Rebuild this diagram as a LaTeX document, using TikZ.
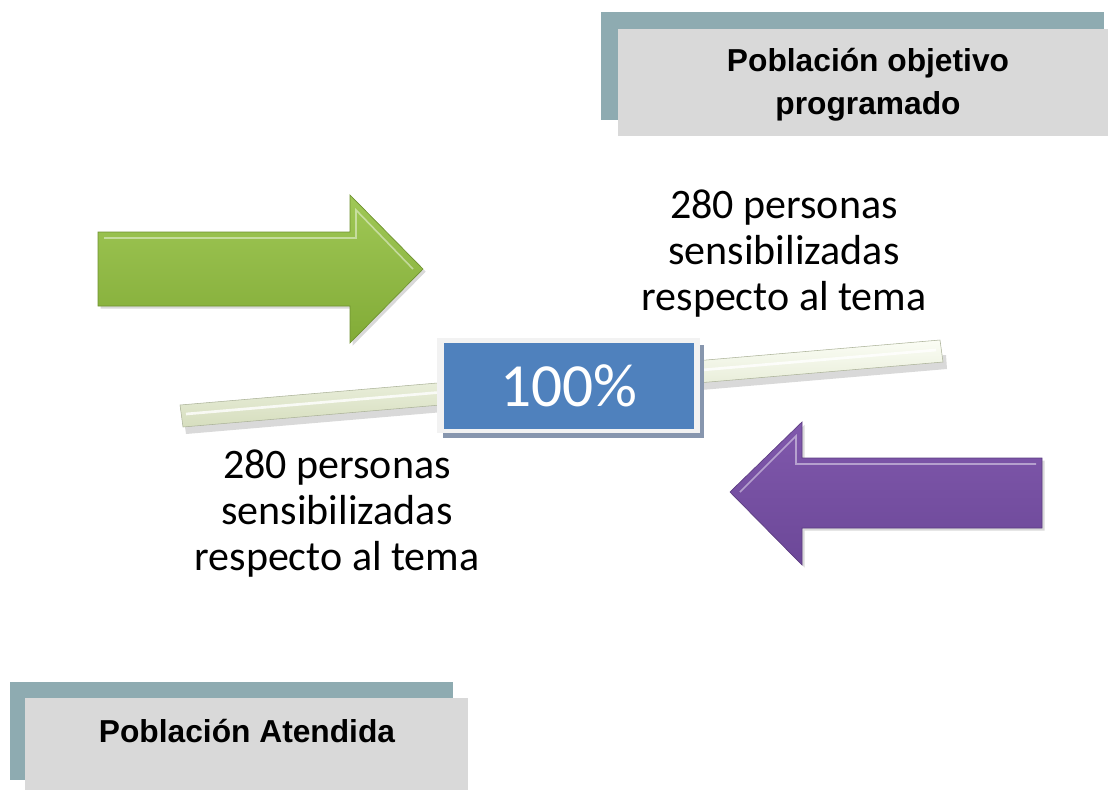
\documentclass[tikz,border=0pt]{standalone}
\usepackage{fontspec}
\setmainfont{Liberation Sans}
\newfontfamily\carlitofont{Carlito}
\usetikzlibrary{shadows}
\definecolor{tealbk}{HTML}{8EABB1}
\definecolor{graybox}{HTML}{D9D9D9}
\definecolor{bluebox}{HTML}{4F81BD}
\definecolor{framec}{HTML}{F2F2F2}
\definecolor{shadc}{HTML}{8796AE}
\definecolor{greentop}{HTML}{A0C856}
\definecolor{greenbot}{HTML}{82AB37}
\definecolor{purtop}{HTML}{8058AC}
\definecolor{purbot}{HTML}{6C4898}
\definecolor{bartop}{HTML}{FBFDF5}
\definecolor{barbot}{HTML}{D6DEBE}
\tikzset{
  titletext/.style={font=\bfseries\fontsize{23.8}{32}\selectfont, align=center, text=black},
  bodytext/.style={font=\carlitofont\fontsize{31.5}{34.5}\selectfont, align=center, text=black},
  arrowshadow/.style={drop shadow={shadow xshift=2pt, shadow yshift=-2pt, opacity=0.3}},
}
\begin{document}
\begin{tikzpicture}[x=0.75pt,y=-0.75pt]
\useasboundingbox (0,0) rectangle (1108,790);
% top title box
\fill[tealbk] (601,12) rectangle (1104,120);
\fill[graybox] (618,29) rectangle (1108,136);
\node[titletext] (tit1) at (868,85) {Población objetivo\\programado};
% bottom title box
\fill[tealbk] (10,682) rectangle (453,780);
\fill[graybox] (25,698) rectangle (468,790);
\node[titletext] (tit2) at (247,731) {Población Atendida};
% bar
\begin{scope}
\path[fill=black, opacity=0.15] (184,420) -- (946,355) -- (947,369) -- (186,434) -- cycle;
\shade[top color=bartop, bottom color=barbot, draw=barbot!80!black, line width=0.4pt]
  (180,405) -- (940,340) -- (943,362) -- (183,427) -- cycle;
\draw[white, line width=2pt, opacity=0.8] (186,414) -- (936,350);
\end{scope}
% green arrow
\shade[top color=greentop, bottom color=greenbot, draw=greenbot!85!black, line width=0.5pt, arrowshadow]
  (98,232) -- (350,232) -- (350,195) -- (423,269) -- (350,343) -- (350,306) -- (98,306) -- cycle;
\draw[white, opacity=0.45, line width=1.2pt] (104,238) -- (356,238) -- (356,210) -- (413,269);
% purple arrow
\shade[top color=purtop, bottom color=purbot, draw=purbot!85!black, line width=0.5pt, arrowshadow]
  (1042,458) -- (802,458) -- (802,422) -- (730,492) -- (802,565) -- (802,528) -- (1042,528) -- cycle;
\draw[white, opacity=0.45, line width=1.2pt] (1036,464) -- (796,464) -- (796,436) -- (740,492);
% 100% box
\fill[shadc] (443,345) rectangle (704,438);
\fill[framec] (437,338) rectangle (700,433);
\node[fill=bluebox, minimum width=250*0.75pt, minimum height=86*0.75pt, inner sep=0pt,
  font=\carlitofont\fontsize{46}{50}\selectfont, text=white] (pct) at (569,386) {100\%};
% texts
\node[bodytext] (t1) at (784,254) {280 personas\\sensibilizadas\\respecto al tema};
\node[bodytext] (t2) at (337,514) {280 personas\\sensibilizadas\\respecto al tema};
\end{tikzpicture}
\end{document}
